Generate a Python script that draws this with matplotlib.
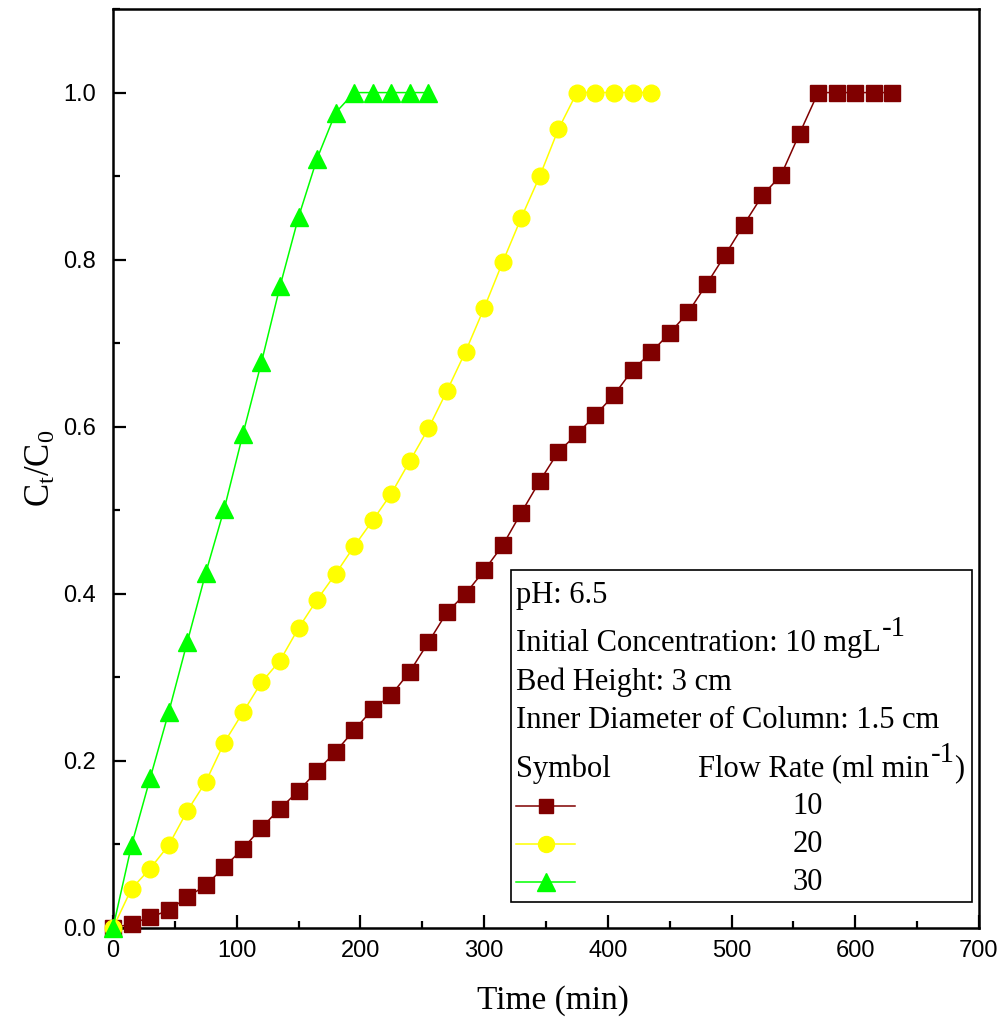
import matplotlib
matplotlib.use("Agg")
import matplotlib.pyplot as plt
from matplotlib.patches import Rectangle
from matplotlib.lines import Line2D
from matplotlib.text import Annotation
from matplotlib.ticker import MultipleLocator

plt.rcParams['mathtext.fontset'] = 'custom'
plt.rcParams['mathtext.rm'] = 'Liberation Serif'
plt.rcParams['mathtext.it'] = 'Liberation Serif'

# ---- data ----
time_10 = [0, 15, 30, 45, 60, 75, 90, 105, 120, 135, 150, 165, 180, 195, 210, 225, 240, 255, 270, 285,
           300, 315, 330, 345, 360, 375, 390, 405, 420, 435, 450, 465, 480, 495, 510, 525, 540, 555, 570,
           585, 600, 615, 630]
ct_10 = [0.0, 0.005, 0.013, 0.021, 0.037, 0.051, 0.073, 0.095, 0.120, 0.143, 0.164, 0.188, 0.211, 0.237,
         0.262, 0.279, 0.307, 0.342, 0.378, 0.400, 0.428, 0.458, 0.497, 0.535, 0.570, 0.591, 0.614, 0.638,
         0.668, 0.689, 0.712, 0.737, 0.771, 0.806, 0.842, 0.877, 0.901, 0.951, 1.0, 1.0, 1.0, 1.0, 1.0]

time_20 = [0, 15, 30, 45, 60, 75, 90, 105, 120, 135, 150, 165, 180, 195, 210, 225, 240, 255, 270, 285,
           300, 315, 330, 345, 360, 375, 390, 405, 420, 435]
ct_20 = [0.0, 0.047, 0.071, 0.099, 0.140, 0.175, 0.222, 0.258, 0.294, 0.320, 0.359, 0.393, 0.424, 0.457,
         0.488, 0.520, 0.559, 0.598, 0.643, 0.690, 0.742, 0.797, 0.850, 0.900, 0.956, 1.0, 1.0, 1.0, 1.0, 1.0]

time_30 = [0, 15, 30, 45, 60, 75, 90, 105, 120, 135, 150, 165, 180, 195, 210, 225, 240, 255]
ct_30 = [0.0, 0.099, 0.179, 0.258, 0.342, 0.425, 0.502, 0.591, 0.677, 0.768, 0.851, 0.921, 0.976,
         1.0, 1.0, 1.0, 1.0, 1.0]

flow_rates = ["10", "20", "30"]
info_lines = ["pH: 6.5", "Initial Concentration: 10 mgL", "Bed Height: 3 cm",
              "Inner Diameter of Column: 1.5 cm"]
info_sup = [None, "-1", None, None]

xticks = [0, 100, 200, 300, 400, 500, 600, 700]
yticks = [0.0, 0.2, 0.4, 0.6, 0.8, 1.0]

# ---- figure ----
fig = plt.figure(figsize=(10.06, 10.27), dpi=100)
ax = fig.add_axes([0.1123, 0.0964, 0.8608, 0.8948])

styles = [
    dict(color='#800000', marker='s', markersize=11),
    dict(color='#FFFF00', marker='o', markersize=12),
    dict(color='#00FF00', marker='^', markersize=13),
]
series = [(time_10, ct_10), (time_20, ct_20), (time_30, ct_30)]
for (t, c), st in zip(series, styles):
    ax.plot(t, c, linewidth=1.1, color=st['color'], marker=st['marker'],
            markersize=st['markersize'], markerfacecolor=st['color'],
            markeredgecolor=st['color'], clip_on=False, zorder=3)

ax.set_xlim(0, 700)
ax.set_ylim(0, 1.1)
ax.set_xticks(xticks)
ax.set_yticks(yticks)
ax.set_xticklabels([str(v) for v in xticks])
ax.set_yticklabels([f"{v:.1f}" for v in yticks])
ax.xaxis.set_minor_locator(MultipleLocator(50))
ax.yaxis.set_minor_locator(MultipleLocator(0.1))
ax.tick_params(which='major', direction='in', length=9.5, width=1.6, top=False, right=False)
ax.tick_params(which='minor', direction='in', length=5, width=1.6, top=False, right=False)
ax.tick_params(axis='x', which='major', pad=9)
ax.tick_params(axis='y', which='major', pad=12)
for lbl in ax.get_xticklabels() + ax.get_yticklabels():
    lbl.set_fontfamily('Liberation Sans')
    lbl.set_fontsize(17)
for sp in ax.spines.values():
    sp.set_linewidth(1.8)

ax.set_xlabel("Time (min)", fontfamily='Liberation Serif', fontsize=24, labelpad=12)
ax.xaxis.set_label_coords(0.508, -0.062)
ax.set_ylabel("$\\mathrm{C_t/C_0}$", fontfamily='Liberation Serif', fontsize=25)
ax.yaxis.set_label_coords(-0.064, 0.5)

# ---- info / legend box ----
def fx(px):
    return px / 1006.0

def fy(py):
    return 1 - py / 1027.0

box = Rectangle((fx(511), fy(902)), fx(972) - fx(511), fy(570) - fy(902), transform=fig.transFigure,
                facecolor='white', edgecolor='black', linewidth=1.2, zorder=5)
fig.patches.append(box)

FS = 22
tkw = dict(fontfamily='Liberation Serif', fontsize=FS, va='center', ha='left', zorder=6)


def add_sup(anchor, s):
    a = Annotation(s, xy=(1.0, 0.55), xycoords=anchor, xytext=(1, 0), textcoords='offset points',
                   fontfamily='Liberation Serif', fontsize=FS * 0.95, va='bottom', ha='left',
                   annotation_clip=False, zorder=7)
    fig.add_artist(a)
    return a


info_y = [596, 643, 682, 720]
for s, sup, y in zip(info_lines, info_sup, info_y):
    t = fig.text(fx(516), fy(y), s, **tkw)
    if sup:
        add_sup(t, sup)
fig.text(fx(516), fy(769), "Symbol", **tkw)
fr_t = fig.text(fx(698), fy(769), "Flow Rate (ml min", **tkw)
sup_t = add_sup(fr_t, "-1")
close_t = Annotation(")", xy=(1.0, 0.0), xycoords=fr_t, xytext=(18, 0), textcoords='offset points',
                     fontfamily='Liberation Serif', fontsize=FS, va='bottom', ha='left',
                     annotation_clip=False, zorder=7)
fig.add_artist(close_t)

row_y = [806, 844, 882]
for fr, st, y in zip(flow_rates, styles, row_y):
    fig.add_artist(Line2D([fx(516), fx(575)], [fy(y), fy(y)], transform=fig.transFigure,
                          color=st['color'], linewidth=1.1, zorder=6))
    fig.add_artist(Line2D([fx(546)], [fy(y)], transform=fig.transFigure, color=st['color'],
                          marker=st['marker'], markersize=st['markersize'] - 0.5,
                          markerfacecolor=st['color'], markeredgecolor=st['color'], linestyle='none',
                          zorder=7))
    fig.text(fx(808), fy(y), fr, fontfamily='Liberation Serif', fontsize=FS, va='center', ha='center',
             zorder=6)

fig.savefig("out.png", dpi=100)
